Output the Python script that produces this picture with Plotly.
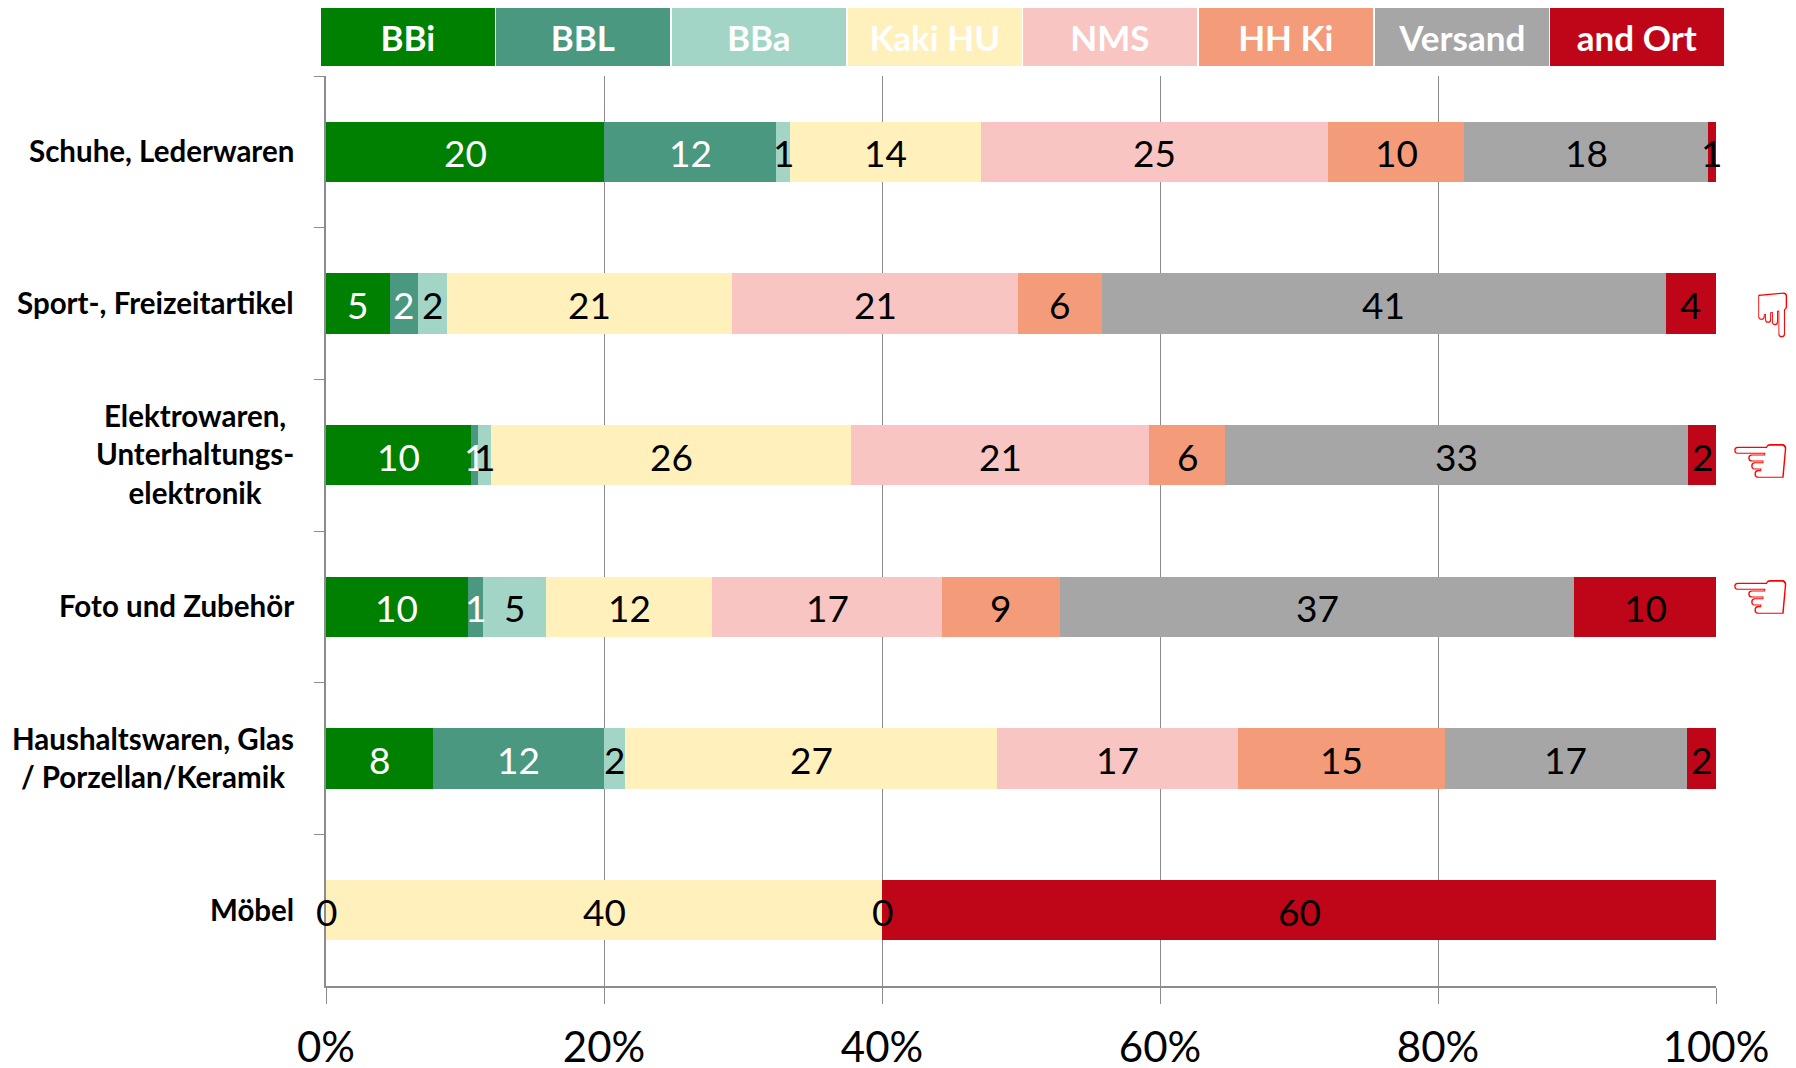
import numpy as np
import plotly.graph_objects as go

categories = ["Schuhe, Lederwaren", "Sport-, Freizeitartikel", "Elektrowaren, Unterhaltungs- elektronik",
              "Foto und Zubehör", "Haushaltswaren, Glas / Porzellan/Keramik", "Möbel"]
category_labels = ["Schuhe, Lederwaren", "Sport-, Freizeitartikel", "Elektrowaren,<br>Unterhaltungs-<br>elektronik",
                   "Foto und Zubehör", "Haushaltswaren, Glas<br>/ Porzellan/Keramik", "Möbel"]
series_names = ["BBi", "BBL", "BBa", "Kaki HU", "NMS", "HH Ki", "Versand", "and Ort"]
BBi = [20.0, 4.6, 10.4, 10.2, 7.7, None]
BBL = [12.4, 2.0, 0.5, 1.1, 12.3, None]
BBa = [1.0, 2.1, 1.0, 4.5, 1.5, 0]
Kaki = [13.7, 20.5, 25.9, 12.0, 26.8, 40.0]
NMS = [25.0, 20.6, 21.4, 16.5, 17.3, 0]
HHKi = [9.8, 6.0, 5.5, 8.5, 14.9, None]
Versand = [17.5, 40.6, 33.3, 37.0, 17.4, None]
AndOrt = [0.6, 3.6, 2.0, 10.2, 2.1, 60.0]
series_values = [BBi, BBL, BBa, Kaki, NMS, HHKi, Versand, AndOrt]
colors = ["#008000", "#4A9880", "#A3D5C6", "#FFF0BC", "#F8C5C2", "#F49B7A", "#A6A6A6", "#BF0618"]
label_colors = ["white", "white", "black", "black", "black", "black", "black", "black"]
x_ticks = [0, 20, 40, 60, 80, 100]
x_ticklabels = ["0%", "20%", "40%", "60%", "80%", "100%"]
hand_marks = [("\u261F", 1773, 316, 62), ("\u261C", 1760, 460, 72), ("\u261C", 1760, 596, 72)]

W, H = 1796, 1068
L, R, T, B = 326, 80, 76, 82
FONT = "Lato, Carlito, sans-serif"
GRID = "#8C8C8C"


def paper_x(px):
    return (px - L) / (W - L - R)


def paper_y(py):
    return 1 - (py - T) / (H - T - B)


fig = go.Figure()
for name, vals, col in zip(series_names, series_values, colors):
    fig.add_trace(go.Bar(name=name, y=categories, x=vals, orientation="h",
                         marker=dict(color=col, line=dict(width=0)), showlegend=False, hoverinfo="x+y+name"))

annotations = []
cum = np.zeros(len(categories))
for name, vals, tcol in zip(series_names, series_values, label_colors):
    arr = np.array([np.nan if v is None else v for v in vals], dtype=float)
    mid = cum + np.nan_to_num(arr) / 2
    for cat, m, v in zip(categories, mid, vals):
        if v is None:
            continue
        annotations.append(dict(x=float(m), y=cat, xref="x", yref="y", text=str(int(v + 0.5)), showarrow=False,
                                xanchor="center", yanchor="middle", yshift=-1,
                                font=dict(family=FONT, size=37, color=tcol)))
    cum = cum + np.nan_to_num(arr)

for cat, lab in zip(categories, category_labels):
    annotations.append(dict(x=0, y=cat, xref="x", yref="y", text=lab, showarrow=False, xanchor="right",
                            yanchor="middle", align="center", xshift=-30, yshift=1,
                            font=dict(family=FONT, size=29.5, color="black", weight="bold")))

box_l, box_r, box_t, box_b = 320, 1725, 7, 67
bw = (box_r - box_l) / len(series_names)
for i, (name, col) in enumerate(zip(series_names, colors)):
    cx = box_l + bw * (i + 0.5)
    annotations.append(dict(x=paper_x(cx), y=paper_y((box_t + box_b) / 2), xref="paper", yref="paper",
                            xanchor="center", yanchor="middle", text=name, showarrow=False,
                            bgcolor=col, bordercolor="white", borderwidth=1, borderpad=0,
                            width=bw - 2, height=box_b - box_t - 2,
                            font=dict(family=FONT, size=35, color="white", weight="bold")))

for glyph, px, py, size in hand_marks:
    annotations.append(dict(x=paper_x(px), y=paper_y(py), xref="paper", yref="paper", xanchor="center",
                            yanchor="middle", text=glyph, showarrow=False,
                            font=dict(family="DejaVu Sans", size=size, color="#FF0000", weight="bold")))

fig.update_layout(
    barmode="stack", bargap=0.604, width=W, height=H, autosize=False,
    margin=dict(l=L, r=R, t=T, b=B, pad=0, autoexpand=False),
    paper_bgcolor="white", plot_bgcolor="white", annotations=annotations,
    xaxis=dict(range=[0, 100], tickvals=x_ticks, ticktext=x_ticklabels, showgrid=True, gridcolor=GRID,
               gridwidth=1, ticks="outside", ticklen=16, tickcolor=GRID, tickwidth=1, automargin=False,
               showline=True, linecolor=GRID, linewidth=2, zeroline=False, ticklabelstandoff=8,
               tickfont=dict(family=FONT, size=42, color="black")),
    yaxis=dict(type="category", categoryorder="array", categoryarray=categories, autorange="reversed",
               tickson="boundaries", ticks="outside", ticklen=10, tickcolor=GRID, tickwidth=1, automargin=False,
               showticklabels=False, showline=True, linecolor=GRID, linewidth=2, showgrid=False, zeroline=False),
)
fig.write_html("out.html", config={"displayModeBar": False}, post_script="document.body.style.margin='0';")
